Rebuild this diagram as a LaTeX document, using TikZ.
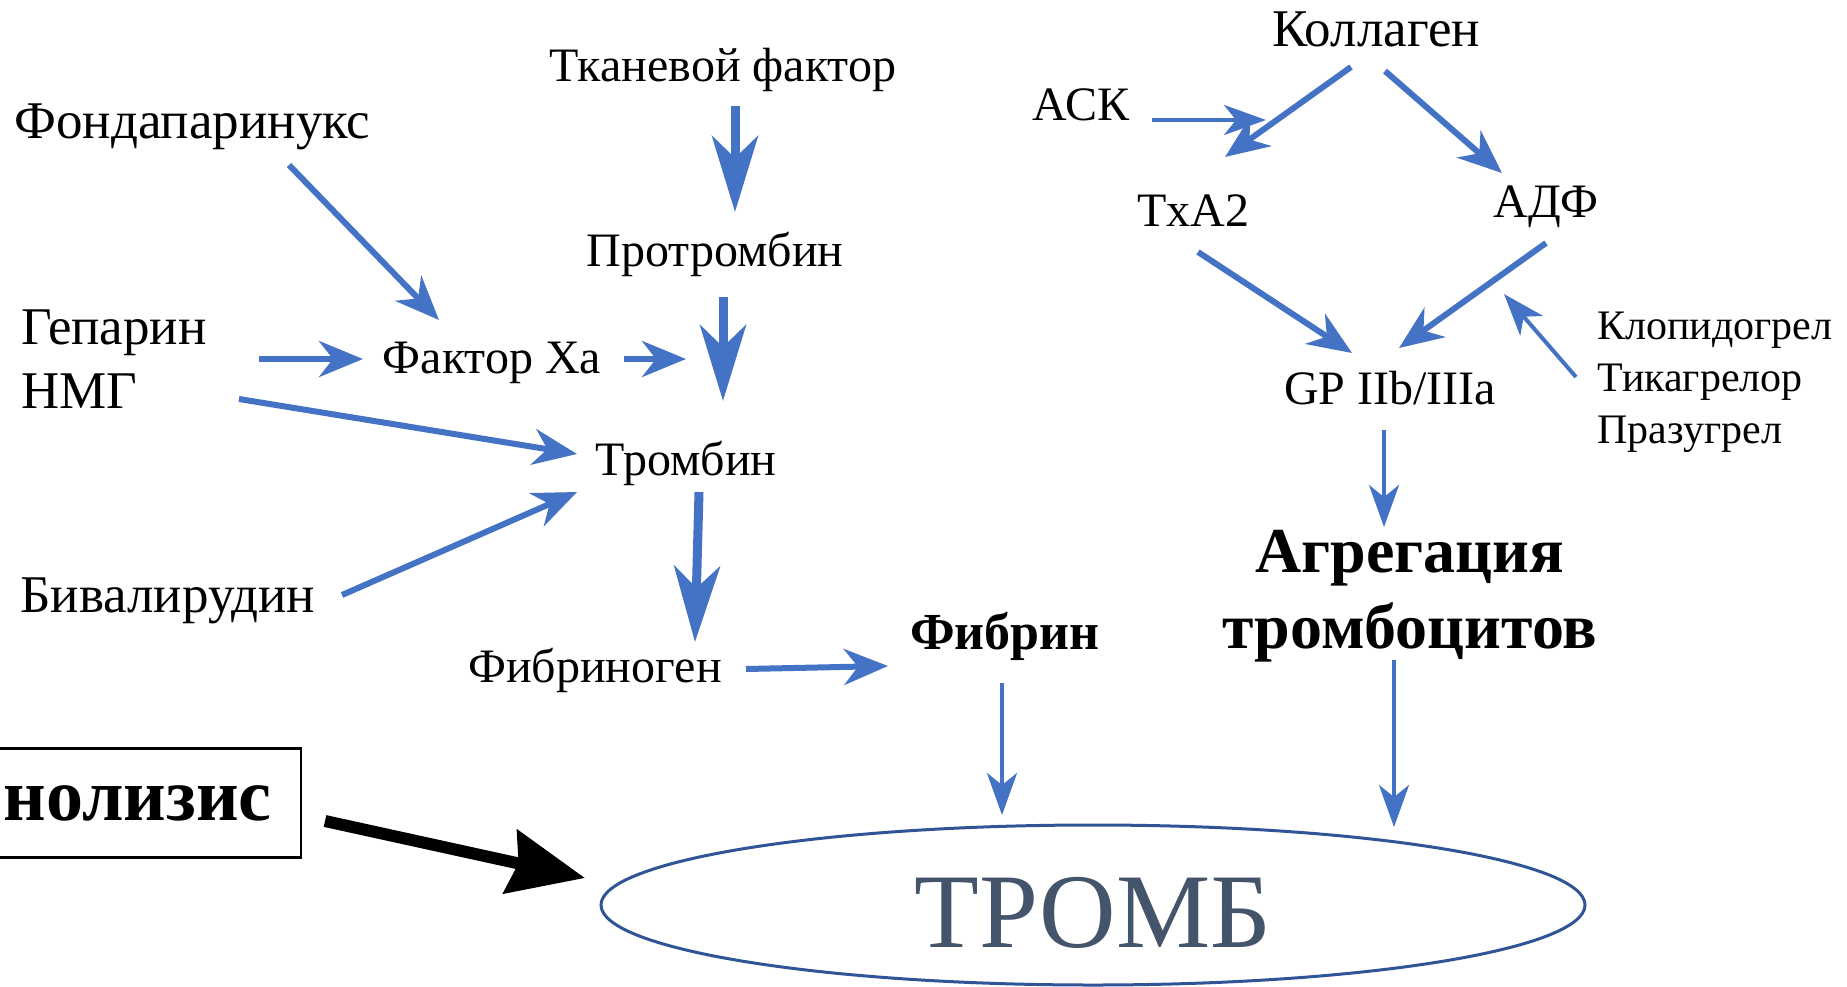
\documentclass[tikz,border=0pt]{standalone}
\usepackage{fontspec}
\setmainfont{Liberation Serif}
\usetikzlibrary{arrows.meta, shapes.geometric, calc}
\definecolor{myblue}{RGB}{68, 114, 196}
\definecolor{ellblue}{RGB}{47, 85, 151}
\definecolor{slate}{RGB}{68, 84, 106}
\tikzset{
lbl/.style = {inner sep=0pt, text height=19.4pt, text depth=5pt, font=\fontsize{24}{29}\selectfont},
biglbl/.style = {lbl, text height=21.4pt, text depth=5.5pt, font=\fontsize{26.5}{32}\selectfont},
arr/.style = {myblue, line width=3pt, -{Stealth[length=22pt, width=18pt, inset=7pt]}},
bigarr/.style = {myblue, line width=4.5pt, -{Stealth[length=38pt, width=23pt, inset=11pt]}},
thinarr/.style = {myblue, line width=2pt, -{Stealth[length=21pt, width=15pt, inset=6pt]}},
blkarr/.style = {black, line width=6pt, -{Stealth[length=38pt, width=32pt, inset=4pt]}}
}

\begin{document}
\begin{tikzpicture}[x=0.5pt, y=-0.5pt]
\useasboundingbox (0,0) rectangle (1847,986);
\clip (0,0) rectangle (1847,986);
% labels
\foreach \nm/\pos/\txt in {tf/{(723,67)}/{Тканевой фактор}, pro/{(715,252)}/Протромбин,
  fxa/{(492,359)}/{Фактор Xa}, tro/{(686,461)}/Тромбин, fgen/{(595,668)}/Фибриноген,
  ask/{(1081,106)}/АСК, txa/{(1193,212)}/TxA2,
  adf/{(1546,203)}/АДФ, gp/{(1390,390)}/{GP IIb/IIIa}}{
\node[lbl] (\nm) at \pos {\txt};
}
\node[biglbl] (koll) at (1376,31) {Коллаген};
\node[biglbl, anchor=west] (fond) at (14,123) {Фондапаринукс};
\node[biglbl, anchor=west] (biv) at (20,597) {Бивалирудин};
\node[inner sep=0pt, align=left, anchor=west, font=\fontsize{26.5}{32}\selectfont] (hep) at (21,359) {Гепарин\\НМГ};
\node[inner sep=0pt, align=left, anchor=west, font=\fontsize{21}{26}\selectfont] (drugs) at (1597,382) {Клопидогрел\\Тикагрелор\\Празугрел};
\node[lbl, text height=20.5pt, text depth=5.5pt, font=\bfseries\fontsize{26}{30}\selectfont] (fib) at (1005,634) {Фибрин};
\node[inner sep=0pt, align=center, font=\bfseries\fontsize{32}{38}\selectfont] (agr) at (1410,596) {Агрегация\\тромбоцитов};
\node[draw, line width=1.2pt, anchor=east, minimum height=54.5pt, text width=150pt, align=right,
  inner xsep=14.5pt, inner ysep=0pt, font=\bfseries\fontsize{37}{42}\selectfont] (lys) at (302,803) {нолизис};
\node[ellipse, draw=ellblue, line width=1.5pt, minimum width=492pt, minimum height=80pt, inner sep=0pt,
  text=slate, text height=42pt, text depth=0pt, font=\fontsize{53}{60}\selectfont] (thr) at (1093,905) {ТРОМБ};

% coagulation
\draw[arr] ($(fond.west)+(275,42)$) -- ($(fxa)+(-53,-39)$);
\draw[arr] ($(hep.west)+(238,0)$) -- ($(fxa)+(-129,0)$);
\draw[arr] ($(hep.west)+(218,40)$) -- ($(tro)+(-109,-7)$);
\draw[arr] ($(biv.west)+(322,-2)$) -- ($(tro)+(-109,31)$);
\draw[bigarr] ($(tf)+(12,39)$) -- ($(pro)+(20,-40)$);
\draw[bigarr] ($(pro)+(8,45)$) -- ($(tro)+(37,-60)$);
\coordinate (xain) at ($(fxa)+(194,0)$);
\draw[arr] ($(fxa)+(132,0)$) -- (xain);
\draw[bigarr] ($(tro)+(13,31)$) -- ($(fgen)+(100,-26)$);
\draw[arr] ($(fgen)+(151,1)$) -- ($(fib)+(-117,32)$);
\draw[thinarr] ($(fib)+(-3,49)$) -- ($(thr)+(-91,-90)$);

% platelets
\draw[arr] ($(koll)+(-25,36)$) -- ($(txa)+(32,-55)$);
\draw[arr] ($(koll)+(9,40)$) -- ($(adf)+(-44,-30)$);
\coordinate (askin) at ($(ask)+(185,14)$);
\draw[thinarr] ($(ask)+(71,14)$) -- (askin);
\draw[arr] ($(txa)+(5,40)$) -- ($(gp)+(-38,-37)$);
\draw[arr] ($(adf)+(0,40)$) -- ($(gp)+(9,-42)$);
\coordinate (adfin) at ($(drugs.west)+(-93,-88)$);
\draw[thinarr] ($(drugs.west)+(-21,-5)$) -- (adfin);
\draw[thinarr] ($(gp)+(-6,40)$) -- ($(agr)+(-26,-69)$);
\draw[thinarr] ($(agr)+(-16,64)$) -- ($(thr)+(301,-78)$);

\draw[blkarr] ($(lys.east)+(23,18)$) -- ($(thr)+(-508,-27)$);
\end{tikzpicture}
\end{document}
